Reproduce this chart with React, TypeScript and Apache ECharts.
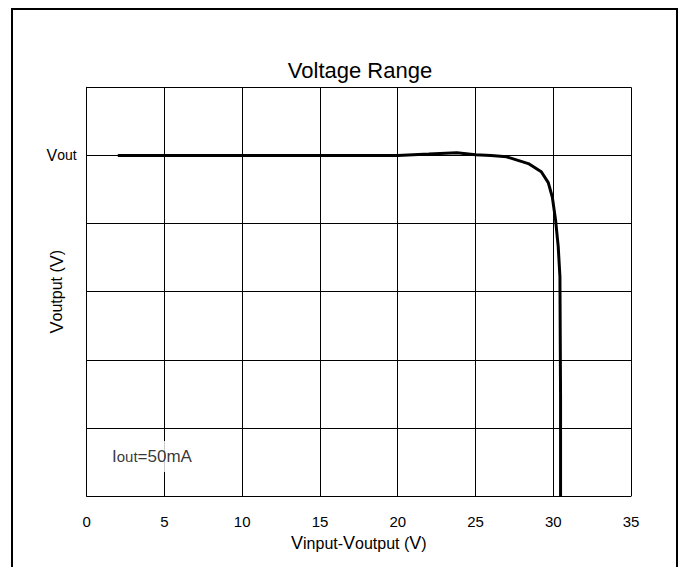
import React, { useEffect, useRef } from "react";
import * as echarts from "echarts";

const xValues = [2, 5, 10, 15, 20, 22, 23.8, 25, 26, 27, 28.4, 29.23, 29.68, 29.94, 30.15, 30.32, 30.43, 30.47, 30.47];
const yValues = [5, 5, 5, 5, 5, 5.02, 5.04, 5.01, 5, 4.98, 4.88, 4.76, 4.6, 4.39, 4.05, 3.66, 3.22, 1.5, 0];
const xTicks = { min: 0, max: 35, interval: 5 };
const yTicks = { min: 0, max: 6, interval: 1 };
const voutLevel = 5;
const noteAt = [1.5, 0.58];

const FONT = "'Liberation Sans', Arial, sans-serif";

export default function App() {
  const ref = useRef<HTMLDivElement>(null);
  useEffect(() => {
    if (!ref.current) return;
    const chart = echarts.init(ref.current, null, { renderer: "svg" });
    const big = { fontFamily: FONT, fontSize: 18, color: "#000" };
    const small = { fontFamily: FONT, fontSize: 16, color: "#000" };
    chart.setOption({
      animation: false,
      backgroundColor: "#fff",
      title: {
        text: "Voltage Range",
        left: 355,
        textAlign: "center",
        top: 54,
        textStyle: { fontFamily: FONT, fontSize: 22, fontWeight: "normal", color: "#000" },
      },
      graphic: [
        {
          type: "rect",
          shape: { x: 12, y: 9, width: 665, height: 620 },
          style: { fill: "none", stroke: "#000", lineWidth: 2 },
          silent: true,
        },
      ],
      grid: { left: 86.7, right: 52, top: 87.3, bottom: 71, containLabel: false },
      xAxis: {
        type: "value",
        min: xTicks.min,
        max: xTicks.max,
        interval: xTicks.interval,
        axisLine: { show: true, lineStyle: { color: "#000", width: 1 } },
        axisTick: { show: false },
        splitLine: { show: true, lineStyle: { color: "#000", width: 1 } },
        axisLabel: { margin: 18, fontFamily: FONT, fontSize: 15, color: "#000" },
        name: "{v|V}{s|input-}{v|V}{s|output (}{v|V}{s|)}",
        nameLocation: "middle",
        nameGap: 38,
        nameMoveOverlap: false,
        nameTextStyle: { rich: { v: big, s: small } },
      },
      yAxis: {
        type: "value",
        min: yTicks.min,
        max: yTicks.max,
        interval: yTicks.interval,
        axisLine: { show: true, lineStyle: { color: "#000", width: 1 } },
        axisTick: { show: false },
        splitLine: { show: true, lineStyle: { color: "#000", width: 1 } },
        axisLabel: {
          margin: 10,
          formatter: (v: number) => (v === voutLevel ? "{v|V}{s|out}" : ""),
          rich: {
            v: { fontFamily: FONT, fontSize: 16, color: "#000" },
            s: { fontFamily: FONT, fontSize: 14, color: "#000" },
          },
        },
        name: "{v|V}{s|output (}{v|V}{s|)}",
        nameLocation: "middle",
        nameRotate: 90,
        nameGap: 21,
        nameMoveOverlap: false,
        nameTextStyle: { rich: { v: big, s: small } },
      },
      series: [
        {
          type: "line",
          data: xValues.map((x, i) => [x, yValues[i]]),
          showSymbol: false,
          symbol: "none",
          lineStyle: { color: "#000", width: 3 },
          z: 3,
        },
        {
          type: "scatter",
          data: [noteAt],
          symbolSize: 0,
          silent: true,
          z: 4,
          label: {
            show: true,
            position: "right",
            distance: 0,
            formatter: "{i|I}{s|out}{n|=50mA}",
            backgroundColor: "#fff",
            padding: [7, 2],
            rich: {
              i: { fontFamily: FONT, fontSize: 17, color: "#000" },
              s: { fontFamily: FONT, fontSize: 15, color: "#000" },
              n: { fontFamily: FONT, fontSize: 17, color: "#000" },
            },
          },
        },
      ],
    });
    return () => chart.dispose();
  }, []);
  return (
    <div
      ref={ref}
      style={{ position: "absolute", left: 0, top: 0, width: 683, height: 567, background: "#fff" }}
    />
  );
}
